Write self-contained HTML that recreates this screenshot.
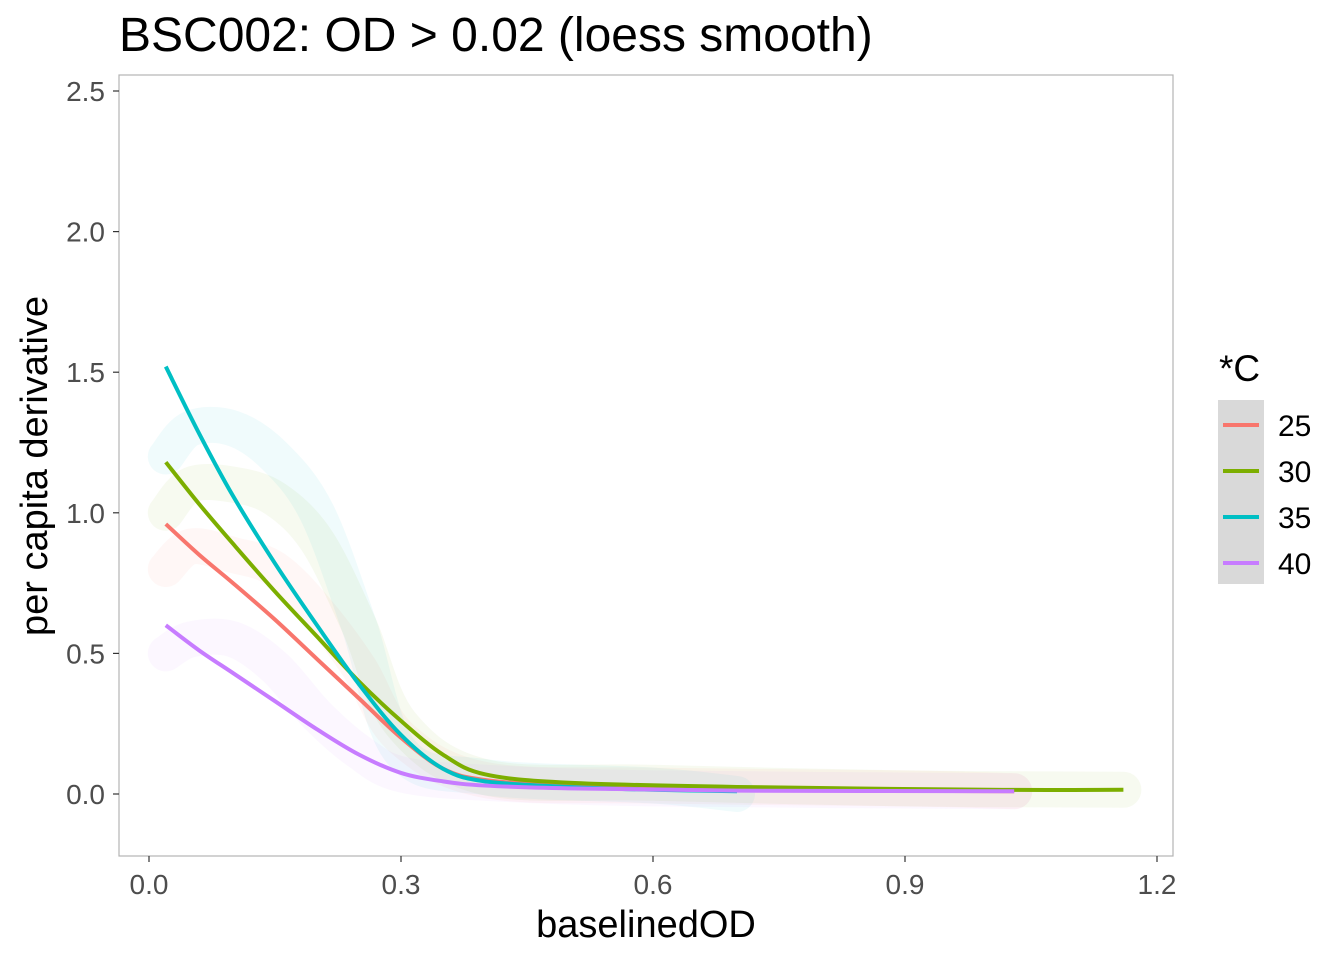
<!DOCTYPE html>
<html><head><meta charset="utf-8"><style>
body{margin:0;background:#fff;}
svg{display:block;font-family:"Liberation Sans",Arial,sans-serif;}
</style></head><body>
<svg id="chart" width="1344" height="960">
<text x="119" y="51" font-size="48" fill="#000">BSC002: OD &gt; 0.02 (loess smooth)</text>
<rect x="119" y="75" width="1054" height="781" fill="#fff" stroke="#b3b3b3" stroke-width="1.2"/>
<g id="clouds"></g>
<g id="lines"></g>
<g id="axes"></g>
<text x="646" y="937" font-size="38" text-anchor="middle">baselinedOD</text>
<text transform="translate(47,466) rotate(-90)" font-size="38" text-anchor="middle">per capita derivative</text>
<g>
<text x="1219" y="381" font-size="37">*C</text>
<rect x="1218" y="400" width="46" height="184" fill="#d9d9d9"/>
<g id="legend"></g>
</g>
</svg>
<script>
const categories=["25","30","35","40"];
const colors=["#F8766D","#7CAE00","#00BFC4","#C77CFF"];
const xs25=[0.02,0.06,0.1,0.15,0.2,0.25,0.3,0.35,0.4,0.5,0.7,1.03];
const ys25=[0.96,0.85,0.75,0.62,0.48,0.34,0.2,0.09,0.05,0.03,0.015,0.01];
const xs30=[0.02,0.06,0.1,0.15,0.2,0.25,0.3,0.35,0.4,0.5,0.7,1.0,1.16];
const ys30=[1.18,1.03,0.89,0.72,0.56,0.4,0.26,0.14,0.07,0.04,0.025,0.015,0.015];
const xs35=[0.02,0.06,0.1,0.15,0.2,0.25,0.3,0.35,0.4,0.5,0.6,0.7];
const ys35=[1.52,1.28,1.06,0.82,0.6,0.39,0.21,0.09,0.045,0.025,0.015,0.01];
const xs40=[0.02,0.06,0.1,0.15,0.2,0.25,0.3,0.35,0.4,0.5,0.7,1.03];
const ys40=[0.6,0.51,0.43,0.33,0.23,0.14,0.075,0.045,0.03,0.02,0.012,0.01];
const cx25=[0.02,0.05,0.1,0.15,0.2,0.25,0.3,0.4,0.6,0.9,1.03];
const cy25=[0.8,0.88,0.85,0.8,0.65,0.45,0.2,0.05,0.03,0.02,0.01];
const cx30=[0.02,0.05,0.1,0.15,0.2,0.25,0.3,0.4,0.6,0.9,1.16];
const cy30=[1.0,1.1,1.1,1.05,0.9,0.6,0.25,0.06,0.04,0.02,0.015];
const cx35=[0.02,0.05,0.1,0.15,0.2,0.25,0.3,0.4,0.6,0.7];
const cy35=[1.2,1.3,1.3,1.2,1.0,0.6,0.15,0.06,0.03,0.0];
const cx40=[0.02,0.05,0.1,0.15,0.2,0.25,0.3,0.4,0.6,1.03];
const cy40=[0.5,0.55,0.55,0.45,0.28,0.15,0.07,0.04,0.02,0.01];
const xTicks=[0,0.3,0.6,0.9,1.2];
const xTickLabels=["0.0","0.3","0.6","0.9","1.2"];
const yTicks=[0,0.5,1,1.5,2,2.5];
const yTickLabels=["0.0","0.5","1.0","1.5","2.0","2.5"];
const X=v=>149+v*840;
const Y=v=>794-v*281.2;
const NS="http://www.w3.org/2000/svg";
function mk(t,a,p){const e=document.createElementNS(NS,t);for(const k in a)e.setAttribute(k,a[k]);p.appendChild(e);return e;}
function smooth(xs,ys){const P=xs.map((x,i)=>[X(x),Y(ys[i])]);let d="M"+P[0][0]+","+P[0][1];
 for(let i=0;i<P.length-1;i++){const p0=P[i-1]||P[i],p1=P[i],p2=P[i+1],p3=P[i+2]||p2;
 const c1=[p1[0]+(p2[0]-p0[0])/6,p1[1]+(p2[1]-p0[1])/6],c2=[p2[0]-(p3[0]-p1[0])/6,p2[1]-(p3[1]-p1[1])/6];
 d+=" C"+c1.join(",")+" "+c2.join(",")+" "+p2.join(",");}return d;}
const cl=document.getElementById("clouds");
[[cx25,cy25],[cx30,cy30],[cx35,cy35],[cx40,cy40]].forEach((s,i)=>{
 const e=mk("path",{d:smooth(s[0],s[1]),fill:"none",stroke:colors[i],"stroke-width":36,"stroke-opacity":0.06,"stroke-linejoin":"round","stroke-linecap":"round"},cl);
 
 
});
const ln=document.getElementById("lines");
[[xs25,ys25],[xs30,ys30],[xs35,ys35],[xs40,ys40]].forEach((s,i)=>{
 const e=mk("path",{d:smooth(s[0],s[1]),fill:"none",stroke:colors[i],"stroke-width":4,"stroke-linejoin":"round"},ln);
 
 
});
const ax=document.getElementById("axes");
xTicks.forEach((v,i)=>{
 const t=mk("line",{x1:X(v),x2:X(v),y1:856,y2:862,stroke:"#333","stroke-width":1.2},ax);
 
 
 const l=mk("text",{x:X(v),y:894,"font-size":28,fill:"#4d4d4d","text-anchor":"middle"},ax);
 l.textContent=xTickLabels[i];
 
 
});
yTicks.forEach((v,i)=>{
 const t=mk("line",{x1:113,x2:119,y1:Y(v),y2:Y(v),stroke:"#333","stroke-width":1.2},ax);
 
 
 const l=mk("text",{x:105,y:Y(v)+10,"font-size":28,fill:"#4d4d4d","text-anchor":"end"},ax);
 l.textContent=yTickLabels[i];
 
 
});
const lg=document.getElementById("legend");
categories.forEach((c,i)=>{
 const y=425+i*46;
 const k=mk("line",{x1:1223,x2:1259,y1:y,y2:y,stroke:colors[i],"stroke-width":4},lg);
 
 
 const t=mk("text",{x:1278,y:y+11,"font-size":30},lg);
 t.textContent=c;
 
 
});
</script>
</body></html>
